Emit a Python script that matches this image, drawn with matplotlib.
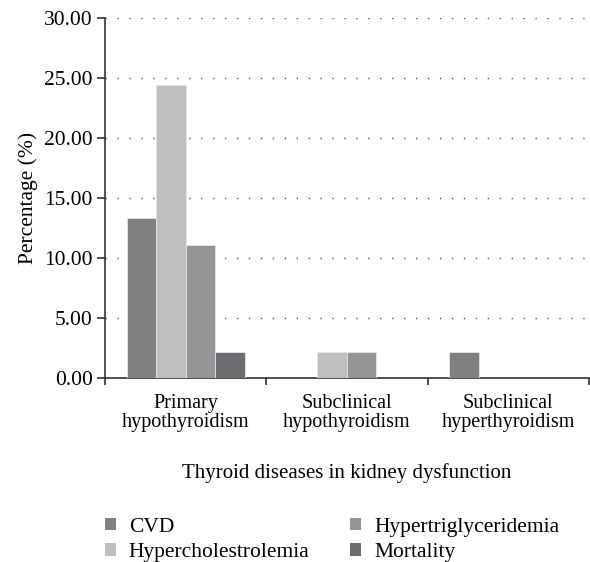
import numpy as np
import matplotlib.pyplot as plt
from matplotlib.patches import Patch

# Data
groups = ['Primary\nhypothyroidism', 'Subclinical\nhypothyroidism', 'Subclinical\nhyperthyroidism']
series = ['CVD', 'Hypercholestrolemia', 'Hypertriglyceridemia', 'Mortality']
cvd = [13.33, 0.0, 2.22]
hyperchol = [24.44, 2.22, 0.0]
hypertrig = [11.11, 2.22, 0.0]
mortality = [2.22, 0.0, 0.0]
colors = ['#7f8082', '#bebfc1', '#949597', '#6c6d70']

plt.rcParams['font.family'] = ['Liberation Serif', 'DejaVu Serif']
plt.rcParams['font.size'] = 15

fig = plt.figure(figsize=(5.9, 5.62), dpi=100)
ax = fig.add_axes([0.178, 0.327, 0.820, 0.641])

x = np.arange(len(groups))
w = 0.183
values = [cvd, hyperchol, hypertrig, mortality]
for i, (vals, name) in enumerate(zip(values, series)):
    ax.bar(x + (i - 1.5) * w, vals, width=w, color=colors[i],
           edgecolor='#e6e6e6', linewidth=0.6, label=name, zorder=3)

ax.set_xlim(-0.5, 2.5)
ax.set_ylim(0, 30)
ax.set_yticks(np.arange(0, 31, 5))
ax.set_yticklabels(['%.2f' % v for v in np.arange(0, 31, 5)], fontsize=15.5)
ax.set_xticks(x)
ax.set_xticklabels(groups, linespacing=1.05, fontsize=14.5)
ax.set_xticks([-0.5, 0.5, 1.5, 2.5], minor=True)
ax.tick_params(axis='x', which='major', length=0, pad=11)
ax.tick_params(axis='x', which='minor', length=5, width=1.2, color='#333333', direction='out')
ax.tick_params(axis='y', length=6, width=1.2, color='#333333', direction='out', pad=3)

for s in ['top', 'right']:
    ax.spines[s].set_visible(False)
for s in ['left', 'bottom']:
    ax.spines[s].set_color('#333333')
    ax.spines[s].set_linewidth(1.2)

for v in np.arange(5, 31, 5):
    ax.axhline(v, color='#555555', linewidth=1.0, linestyle=(0, (1, 7.6)), zorder=1)

ax.set_ylabel('Percentage (%)', labelpad=4, fontsize=15.5)
ax.set_xlabel('Thyroid diseases in kidney dysfunction', labelpad=22)

handles = [Patch(facecolor=c, edgecolor='none') for c in colors]
fig.legend(handles, series, ncol=2, loc='lower left', bbox_to_anchor=(0.145, -0.035),
           frameon=False, handlelength=0.51, handleheight=0.51, handletextpad=0.6,
           columnspacing=1.9, labelspacing=0.3, fontsize=15.5)

fig.savefig('out.png', dpi=100)
